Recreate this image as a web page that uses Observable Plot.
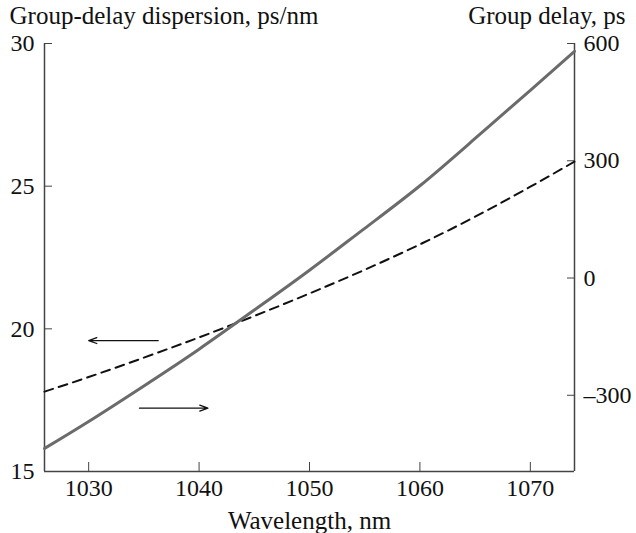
<!DOCTYPE html>
<html>
<head>
<meta charset="utf-8">
<script src="https://cdn.jsdelivr.net/npm/d3@7"></script>
<script src="https://cdn.jsdelivr.net/npm/@observablehq/plot@0.6"></script>
<style>
  body { margin: 0; background: #fff; }
  svg { font-family: "Liberation Serif", "DejaVu Serif", serif; }
</style>
</head>
<body>
<div id="chart"></div>
<script>
// Wavelength, nm
const wavelength = [1026, 1030, 1035, 1040, 1045, 1050, 1055, 1060, 1065, 1070, 1074];
// Group-delay dispersion, ps/nm (left axis, dashed)
const dispersion = [17.80, 18.31, 18.99, 19.70, 20.45, 21.24, 22.07, 22.96, 23.93, 24.98, 25.86];
// Group delay, ps (right axis, solid gray)
const groupDelay = [-436, -367, -276, -182, -82, 20, 127, 236, 357, 480, 580];

const xTicks = [1030, 1040, 1050, 1060, 1070];
const leftTicks = [15, 20, 25, 30];
const rightTicks = [-300, 0, 300, 600];

const leftTitle = "Group-delay dispersion, ps/nm";
const rightTitle = "Group delay, ps";
const xTitle = "Wavelength, nm";

// annotation arrows (data coordinates: wavelength, dispersion scale)
const arrowFromX = [1036.3, 1034.6];
const arrowToX = [1030.0, 1040.8];
const arrowY = [19.59, 17.22];

const xDomain = [1026, 1074];
const leftDomain = [15, 30];
const rightDomain = [-495, 600];

const toLeft = d3.scaleLinear().domain(rightDomain).range(leftDomain);

const dispData = wavelength.map((w, i) => ({w, v: dispersion[i]}));
const delayData = wavelength.map((w, i) => ({w, v: toLeft(groupDelay[i])}));
const arrows = arrowFromX.map((x1, i) => ({x1, x2: arrowToX[i], y: arrowY[i]}));

const axisColor = "#444";
const tickFont = 24;
const titleFont = 25;

const chart = Plot.plot({
  width: 636,
  height: 533,
  marginLeft: 44,
  marginRight: 62,
  marginTop: 43,
  marginBottom: 62,
  style: {fontFamily: "'Liberation Serif', serif", fontSize: tickFont + "px", color: "#111", background: "#fff"},
  x: {domain: xDomain},
  y: {domain: leftDomain},
  marks: [
    Plot.ruleX(xDomain, {stroke: axisColor, strokeWidth: 1.5}),
    Plot.ruleY([15], {stroke: axisColor, strokeWidth: 1.5}),
    Plot.axisX(xTicks, {tickSize: -9, tickPadding: 16, stroke: axisColor, fontSize: tickFont, label: null, tickFormat: d => String(d)}),
    Plot.axisY(leftTicks, {anchor: "left", tickSize: -8, tickPadding: 18, stroke: axisColor, fontSize: tickFont, label: null}),
    Plot.axisY(rightTicks.map(toLeft), {anchor: "right", tickSize: -8, tickPadding: 17, stroke: axisColor, fontSize: tickFont, label: null,
      tickFormat: d => { const v = Math.round(toLeft.invert(d)); return v < 0 ? "\u2013" + Math.abs(v) : String(v); }}),
    Plot.line(dispData, {x: "w", y: "v", curve: "natural", stroke: "#111", strokeWidth: 2, strokeDasharray: "9,6"}),
    Plot.line(delayData, {x: "w", y: "v", curve: "natural", stroke: "#6b6b6b", strokeWidth: 3}),
    Plot.arrow(arrows, {x1: "x1", x2: "x2", y1: "y", y2: "y", stroke: "#111", strokeWidth: 1.3, headLength: 10, headAngle: 40}),
    Plot.text([leftTitle], {frameAnchor: "top-left", textAnchor: "start", lineAnchor: "bottom", dx: -35, dy: -20, fontSize: titleFont, fill: "#111"}),
    Plot.text([rightTitle], {frameAnchor: "top-right", textAnchor: "end", lineAnchor: "bottom", dx: 51, dy: -20, fontSize: titleFont, fill: "#111"}),
    Plot.text([xTitle], {frameAnchor: "bottom", lineAnchor: "bottom", dy: 57, fontSize: titleFont, fill: "#111"})
  ]
});
document.getElementById("chart").appendChild(chart);
</script>
</body>
</html>
